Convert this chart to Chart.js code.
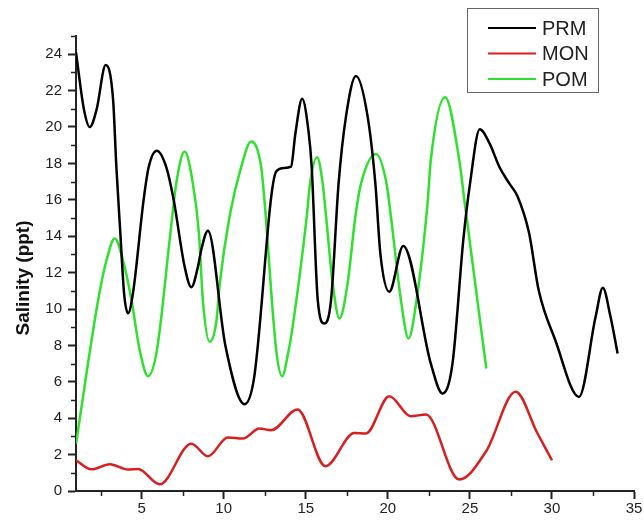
<!DOCTYPE html>
<html>
<head>
<meta charset="utf-8">
<title>Salinity</title>
<script src="https://cdn.jsdelivr.net/npm/chart.js@4"></script>
<style>
  html, body { margin: 0; padding: 0; background: #fff; }
  canvas { display: block; }
</style>
</head>
<body>
<canvas id="chart" width="644" height="522"></canvas>
<script>
const SERIES_NAMES = ['PRM', 'MON', 'POM'];
const SERIES_COLORS = ['#000000', '#d81e1e', '#2fe02f'];

// PRM (black)
const prmX = [1, 1.49, 1.84, 2.25, 2.81, 3.26, 3.46, 3.7, 3.93, 4.17, 4.47, 5.12, 5.43, 5.92, 6.5, 6.95, 7.62, 8.03, 8.43, 8.63, 9.04, 10.1, 11.27, 11.83, 13.2, 13.7, 14.1, 14.37, 14.78, 15.18, 15.36, 15.73, 16.13, 16.54, 17.0, 17.45, 18.06, 18.77, 19.24, 19.55, 20.09, 20.94, 22.62, 23.33, 23.94, 24.6, 25.01, 25.6, 26.2, 26.8, 27.4, 27.9, 28.6, 29.2, 30.2, 31.65, 32.66, 33.1, 33.57, 34];
const prmY = [24.1, 20.94, 20.0, 20.94, 23.4, 21.5, 17.8, 14.2, 10.86, 9.76, 10.86, 16.0, 17.8, 18.7, 17.8, 16.0, 12.32, 11.2, 12.32, 13.24, 14.3, 8.0, 4.77, 6.09, 17.55, 17.75, 17.82, 19.66, 21.55, 19.66, 17.82, 10.49, 9.2, 10.49, 16.9, 20.57, 22.8, 20.57, 16.9, 13.0, 10.95, 13.46, 7.0, 5.36, 7.0, 13.8, 16.9, 19.88, 19.1, 17.8, 16.9, 16.2, 14.2, 11.0, 8.3, 5.17, 9.57, 11.17, 9.57, 7.56];

// MON (red)
const monX = [1, 1.94, 3.06, 4.17, 4.78, 6.1, 8.03, 9.04, 10.25, 11.16, 12.18, 12.89, 14.5, 16.2, 17.96, 18.67, 20.09, 21.4, 22.32, 24.35, 26.0, 27.79, 29.1, 30];
const monY = [1.69, 1.19, 1.47, 1.18, 1.21, 0.37, 2.6, 1.91, 2.94, 2.88, 3.43, 3.34, 4.48, 1.36, 3.19, 3.16, 5.21, 4.11, 4.2, 0.63, 2.2, 5.45, 3.2, 1.69];

// POM (green)
const pomX = [1, 2.35, 2.86, 3.36, 3.86, 4.38, 4.88, 5.39, 5.93, 6.75, 7.11, 7.62, 8.12, 8.49, 8.73, 9.14, 9.55, 9.76, 10.36, 11.07, 11.67, 12.28, 12.48, 13.2, 13.56, 13.96, 14.17, 15.06, 15.26, 15.69, 16.03, 16.24, 16.64, 17.05, 17.55, 18.02, 18.37, 19.28, 19.92, 20.19, 20.8, 21.26, 21.75, 22.42, 22.62, 23.49, 24.35, 24.69, 26];
const pomY = [2.6, 10.49, 12.69, 13.88, 12.69, 10.49, 7.74, 6.31, 7.74, 14.16, 16.9, 18.65, 16.9, 14.16, 10.49, 8.2, 9.3, 11.4, 15.1, 17.82, 19.2, 17.82, 15.99, 7.74, 6.31, 7.74, 8.84, 15.07, 16.9, 18.34, 16.9, 15.07, 11.41, 9.48, 11.41, 15.07, 16.9, 18.52, 16.9, 15.07, 10.49, 8.38, 10.49, 15.8, 18.2, 21.64, 18.2, 15.8, 6.73];

const xTicks = [5, 10, 15, 20, 25, 30, 35];
const xMinorTicks = [2.5, 7.5, 12.5, 17.5, 22.5, 27.5, 32.5];
const yTicks = [0, 2, 4, 6, 8, 10, 12, 14, 16, 18, 20, 22, 24];
const yMinorTicks = [1, 3, 5, 7, 9, 11, 13, 15, 17, 19, 21, 23, 25];

const FONT = '"Liberation Sans", Arial, sans-serif';
const AXIS_COLOR = '#222';

function toPoints(xs, ys) {
    return xs.map((x, i) => ({ x: x, y: ys[i] }));
}

/** minorTicks: draws the short ticks between the labelled ones, plus the y title */
const minorTicks = {
    id: 'minorTicks',
    afterDraw(chart) {
        const ctx = chart.ctx;
        const xs = chart.scales.x;
        const ys = chart.scales.y;
        ctx.save();
        ctx.strokeStyle = AXIS_COLOR;
        ctx.lineWidth = 1.5;
        ctx.beginPath();
        for (const v of xMinorTicks) {
            const px = Math.round(xs.getPixelForValue(v)) + 0.5;
            ctx.moveTo(px, ys.bottom);
            ctx.lineTo(px, ys.bottom + 5);
        }
        for (const v of yMinorTicks) {
            const py = Math.round(ys.getPixelForValue(v)) + 0.5;
            ctx.moveTo(xs.left, py);
            ctx.lineTo(xs.left - 5, py);
        }
        ctx.stroke();

        // y axis title
        ctx.fillStyle = '#111';
        ctx.font = 'bold 19px ' + FONT;
        ctx.textAlign = 'center';
        ctx.textBaseline = 'middle';
        ctx.translate(24, 278);
        ctx.rotate(-Math.PI / 2);
        ctx.fillText('Salinity (ppt)', 0, 0);
        ctx.restore();
    }
};

/** boxLegend: framed legend in the top right corner */
const boxLegend = {
    id: 'boxLegend',
    afterDraw(chart) {
        const ctx = chart.ctx;
        const left = 467, top = 8, w = 131, h = 84;
        ctx.save();
        ctx.strokeStyle = '#666';
        ctx.lineWidth = 1;
        ctx.strokeRect(left + 0.5, top + 0.5, w, h);
        ctx.font = '20px ' + FONT;
        ctx.textBaseline = 'middle';
        ctx.textAlign = 'left';
        chart.data.datasets.forEach((ds, i) => {
            const y = top + 20 + i * 25.5;
            ctx.strokeStyle = ds.borderColor;
            ctx.lineWidth = 2;
            ctx.beginPath();
            ctx.moveTo(488, y);
            ctx.lineTo(536, y);
            ctx.stroke();
            ctx.fillStyle = '#222';
            ctx.fillText(ds.label, 542, y + 1);
        });
        ctx.restore();
    }
};

const seriesX = [prmX, monX, pomX];
const seriesY = [prmY, monY, pomY];

const datasets = SERIES_NAMES.map((name, i) => ({
    label: name,
    data: toPoints(seriesX[i], seriesY[i]),
    borderColor: SERIES_COLORS[i],
    backgroundColor: SERIES_COLORS[i],
    borderWidth: 2.5,
    pointRadius: 0,
    cubicInterpolationMode: 'monotone',
    fill: false
}));

new Chart(document.getElementById('chart'), {
    type: 'line',
    data: { datasets: datasets },
    options: {
        responsive: false,
        animation: false,
        devicePixelRatio: 1,
        layout: { padding: { top: 36, right: 10, left: 0, bottom: 0 } },
        plugins: {
            legend: { display: false },
            tooltip: { enabled: false }
        },
        scales: {
            x: {
                type: 'linear',
                min: 1,
                max: 35,
                afterBuildTicks: (scale) => { scale.ticks = xTicks.map(v => ({ value: v })); },
                afterFit: (scale) => { scale.height = 31; },
                border: { display: true, color: AXIS_COLOR, width: 2 },
                grid: { drawOnChartArea: false, drawTicks: true, tickLength: 8, tickColor: AXIS_COLOR, tickWidth: 2 },
                ticks: { color: '#222', font: { family: FONT, size: 15 }, padding: 1, maxRotation: 0 }
            },
            y: {
                type: 'linear',
                min: 0,
                max: 25,
                afterBuildTicks: (scale) => { scale.ticks = yTicks.map(v => ({ value: v })); },
                afterFit: (scale) => { scale.width = 76; },
                border: { display: true, color: AXIS_COLOR, width: 2 },
                grid: { drawOnChartArea: false, drawTicks: true, tickLength: 8, tickColor: AXIS_COLOR, tickWidth: 2 },
                ticks: { color: '#222', font: { family: FONT, size: 15 }, padding: 6 }
            }
        }
    },
    plugins: [minorTicks, boxLegend]
});
</script>
</body>
</html>
